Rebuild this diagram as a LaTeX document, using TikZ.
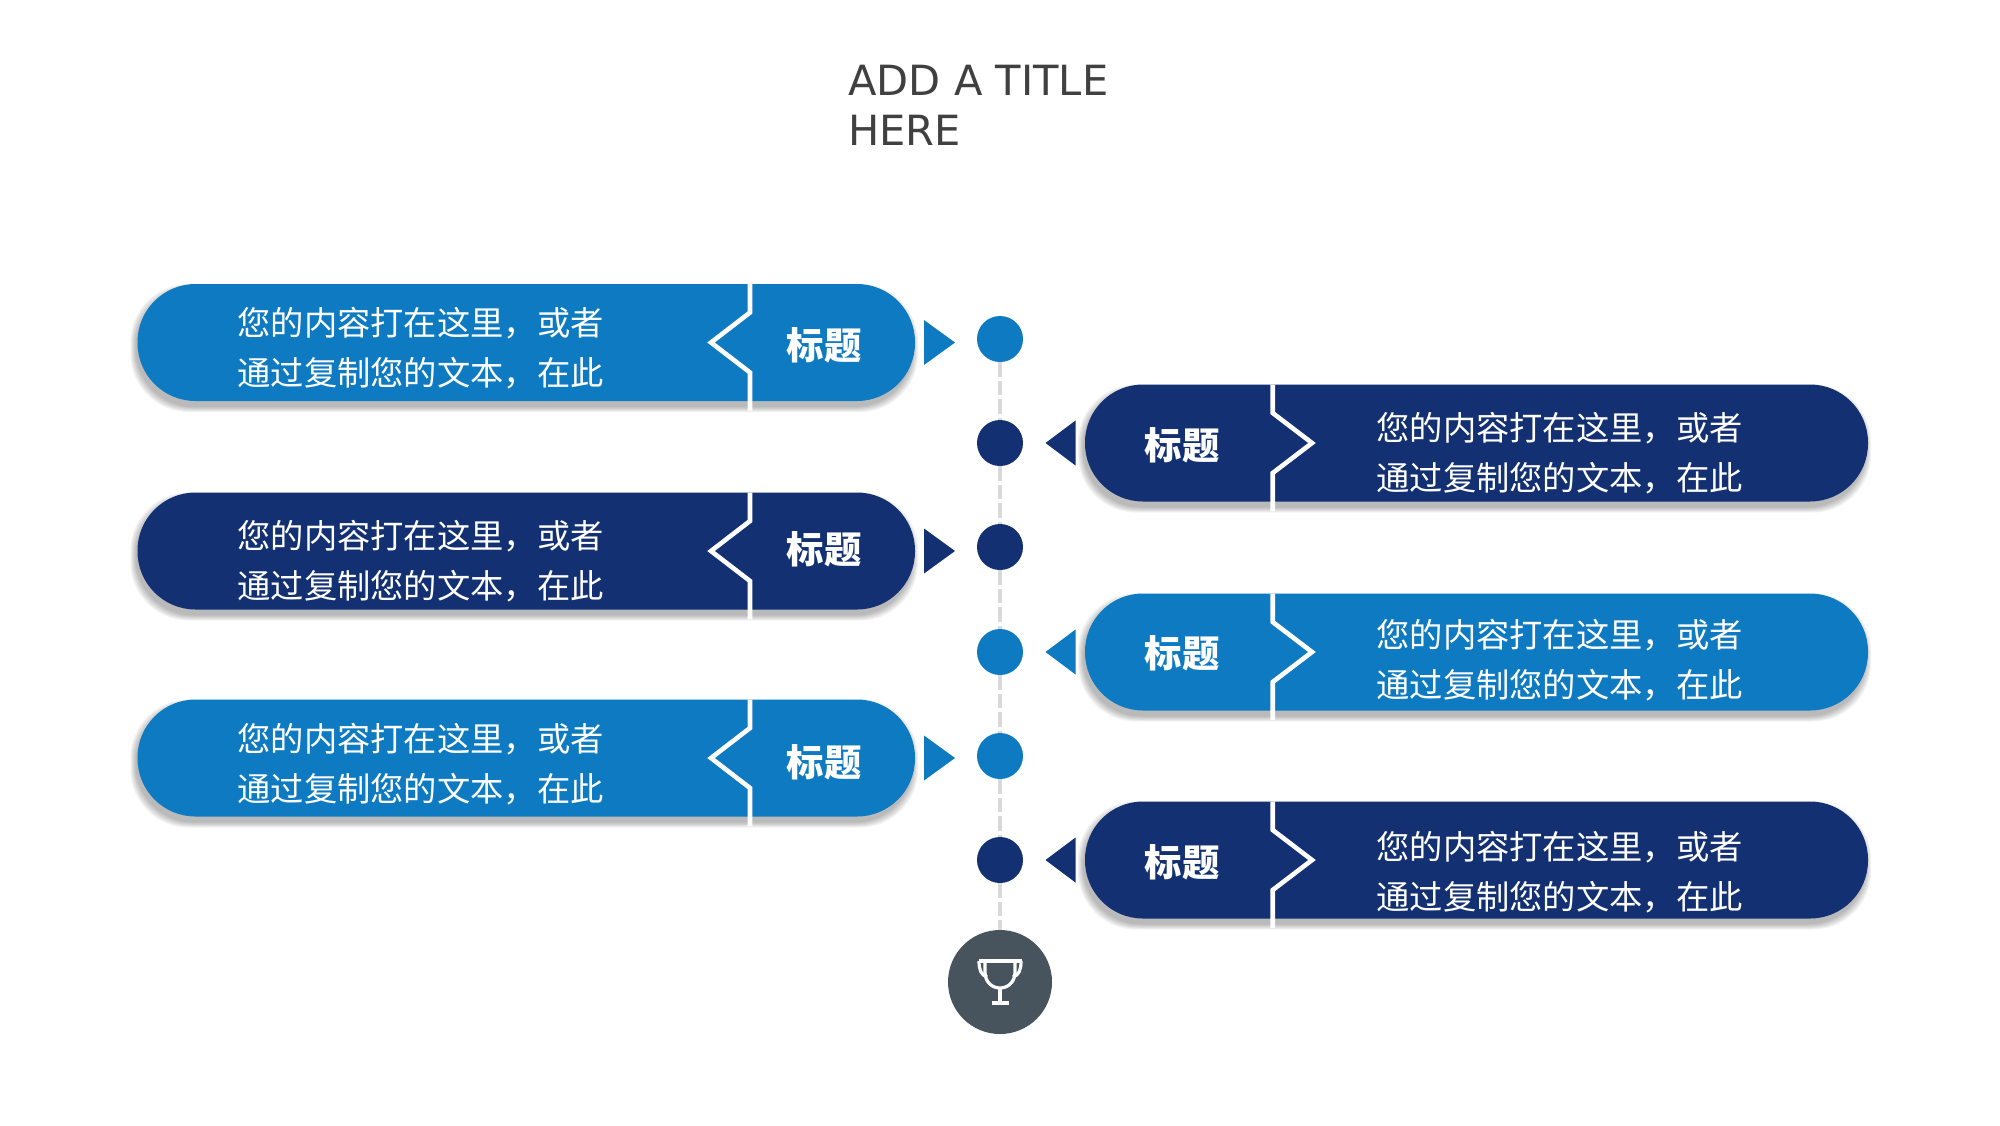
\documentclass[tikz,border=0pt]{standalone}
\usepackage{fontspec}
\setmainfont{DejaVu Sans}
\newfontfamily\cjk{Noto Sans CJK SC}
\usetikzlibrary{positioning}
\definecolor{tintblue}{HTML}{0E7AC2}
\definecolor{darkblue}{HTML}{123072}
\definecolor{slategrey}{HTML}{47545E}
\definecolor{titlegrey}{HTML}{404040}

\begin{document}
\begin{tikzpicture}[
  x=0.5pt, y=-0.5pt,
  pill/.style={rounded corners=29pt, minimum height=58.5pt, inner sep=0pt, outer sep=0pt},
  dot/.style={circle, minimum size=23pt, inner sep=0pt, outer sep=0pt},
  dashline/.style={draw=black!15, line width=2.4pt, dash pattern=on 7.3pt off 2pt},
  notch/.style={draw=white, line width=2.3pt, miter limit=6},
  bodytext/.style={text=white, anchor=west, align=left, inner sep=0pt, font=\cjk\fontsize{16.65}{25}\selectfont},
  headtext/.style={text=white, inner sep=0pt, font=\cjk\bfseries\fontsize{18.7}{22}\selectfont},
  cup/.style={draw=white, line width=1.6pt}
]
  \useasboundingbox (0,0) rectangle (2000,1125);

  \node[anchor=west, align=left, inner sep=0pt, text=titlegrey, font=\fontsize{20.8}{25}\selectfont] (title) at (848,105) {ADD A TITLE\\HERE};

  % left pills
  \foreach \n/\y/\col/\ty/\hy in {a/342.5/tintblue/348.5/345.6, c/551/darkblue/561.5/549.7, e/758/tintblue/764/762.7} {
    \foreach \k in {1,...,6}
      \fill[black, opacity=0.05, rounded corners=29pt] (137.5-1-\k,\y-58.5+6-\k) rectangle (915-3+\k,\y+58.5+5+\k);
    \node[pill, fill=\col, minimum width=388.75pt] (pill\n) at (526.25,\y) {};
    \draw[notch] (750,\y-58.5) -- (750,\y-30) -- (711,\y) -- (750,\y+30) -- (750,\y+68);
    \node[bodytext] (text\n) at (237,\ty) {您的内容打在这里，或者\\通过复制您的文本，在此};
    \node[headtext] (head\n) at (824,\hy) {标题};
    \fill[\col] (924,\y-22.5) -- (955,\y) -- (924,\y+22.5) -- cycle;
  }

  % right pills
  \foreach \n/\y/\col/\ty/\hy in {b/860/darkblue/872/862, d/652/tintblue/660/653, f/443/darkblue/453/445} {
    \foreach \k in {1,...,6}
      \fill[black, opacity=0.05, rounded corners=29pt] (1085-1-\k,\y-58.5+6-\k) rectangle (1868-3+\k,\y+58.5+5+\k);
    \node[pill, fill=\col, minimum width=391.5pt] (pill\n) at (1476.5,\y) {};
    \draw[notch] (1272.7,\y-58.5) -- (1272.7,\y-30) -- (1312,\y) -- (1272.7,\y+30) -- (1272.7,\y+68);
    \node[bodytext] (text\n) at (1376,\ty) {您的内容打在这里，或者\\通过复制您的文本，在此};
    \node[headtext] (head\n) at (1182,\hy) {标题};
    \fill[\col] (1075.5,\y-22.5) -- (1045.5,\y) -- (1075.5,\y+22.5) -- cycle;
  }

  % timeline
  \node[dot, fill=tintblue] (dot1) at (1000,339) {};
  \node[dot, fill=darkblue] (dot2) at (1000,443) {};
  \node[dot, fill=darkblue] (dot3) at (1000,547) {};
  \node[dot, fill=tintblue] (dot4) at (1000,652) {};
  \node[dot, fill=tintblue] (dot5) at (1000,756) {};
  \node[dot, fill=darkblue] (dot6) at (1000,860) {};
  \node[dot, fill=slategrey, minimum size=52pt] (goal) at (1000,982) {};

  \draw[dashline] (dot1) -- (dot2);
  \draw[dashline] (dot2) -- (dot3);
  \draw[dashline] (dot3) -- (dot4);
  \draw[dashline] (dot4) -- (dot5);
  \draw[dashline] (dot5) -- (dot6);
  \draw[dashline] (dot6) -- (goal);

  % trophy
  \draw[cup] (978.5,961) -- (1021.5,961);
  \draw[cup] (979,961) .. controls (979,970) and (981,975) .. (987,977);
  \draw[cup] (1021,961) .. controls (1021,970) and (1019,975) .. (1013,977);
  \draw[cup] (985,961) -- (985,972) .. controls (985,982) and (992,988) .. (1000,988) .. controls (1008,988) and (1015,982) .. (1015,972) -- (1015,961);
  \draw[cup] (1000,988) -- (1000,1003);
  \draw[cup] (991.5,1003) -- (1008.5,1003);
\end{tikzpicture}
\end{document}
